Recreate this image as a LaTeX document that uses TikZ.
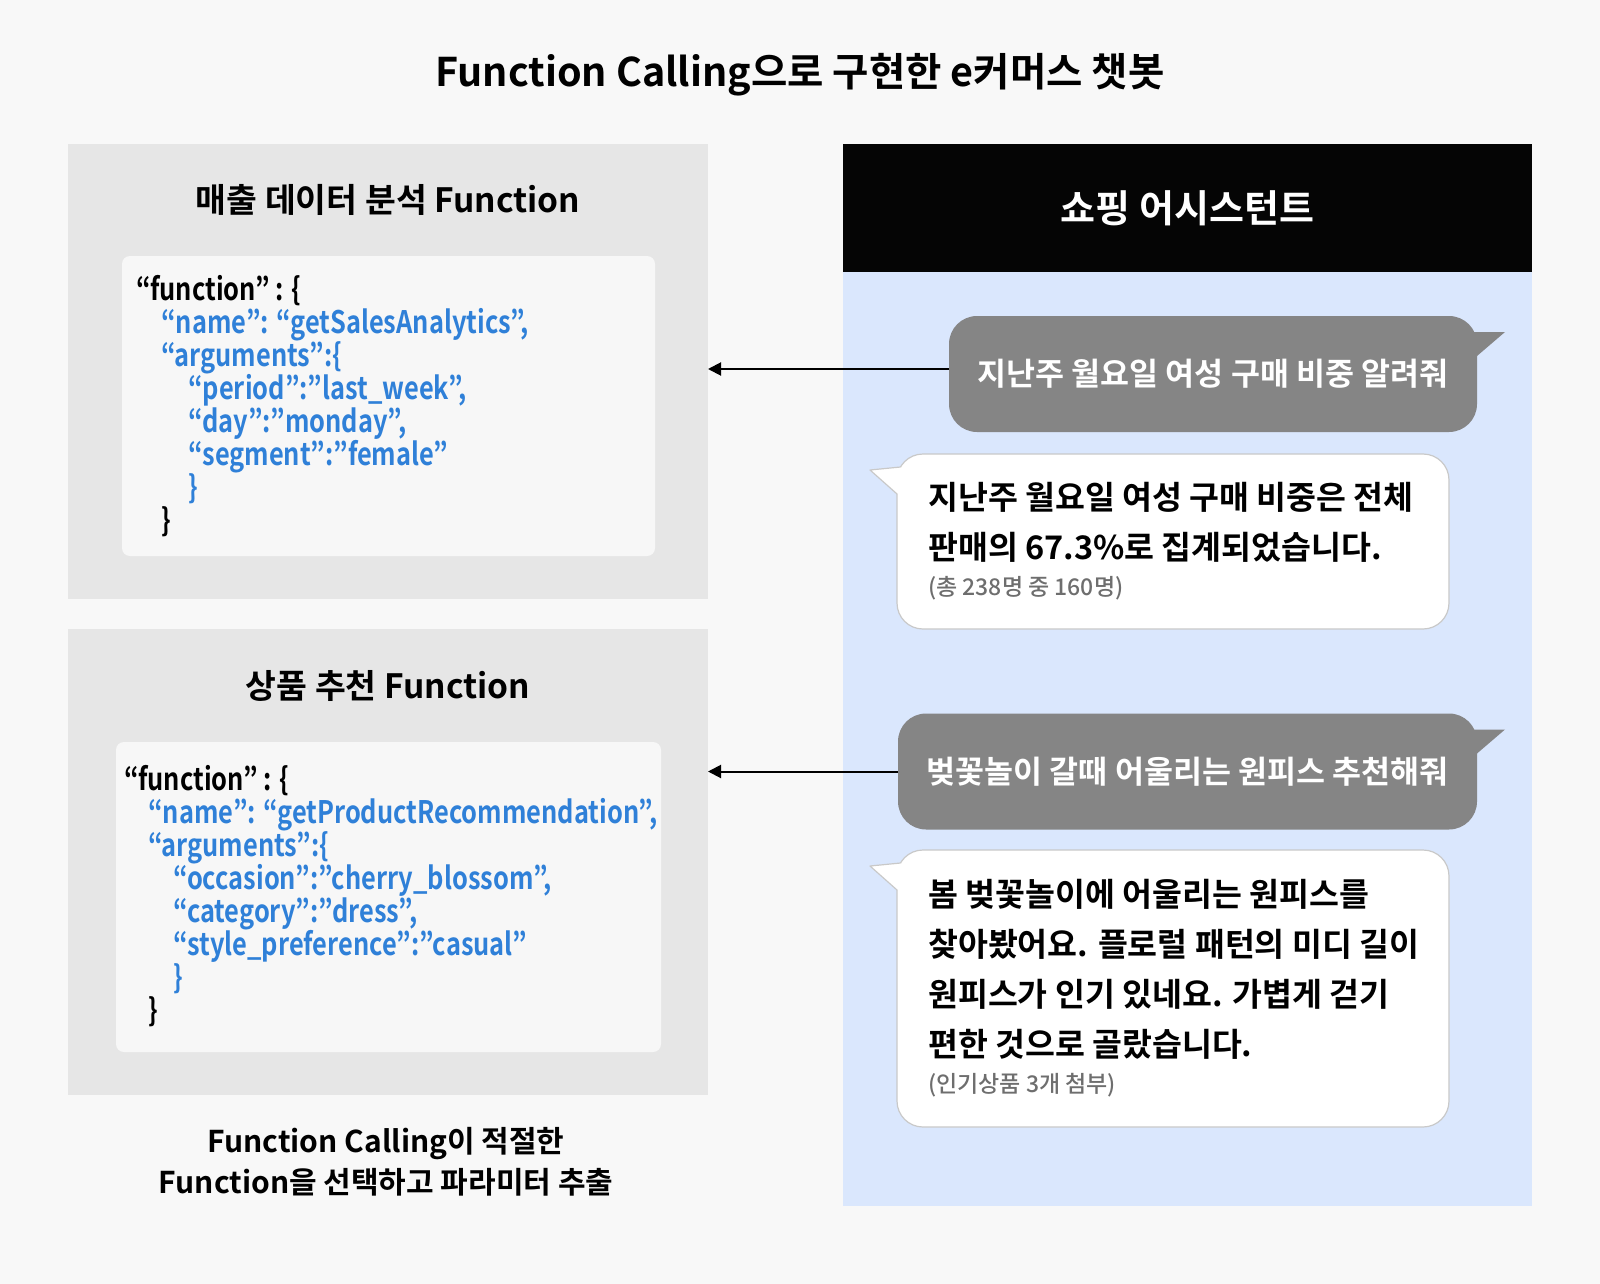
\documentclass[tikz,border=0pt]{standalone}
\usepackage{fontspec}
\setmainfont{Noto Sans CJK KR}
\newfontfamily\medfont{Noto Sans CJK KR Medium}
\newfontfamily\heavyfont{Noto Sans CJK KR Bold}
\newfontfamily\codefont[FakeStretch=0.82]{Noto Sans CJK KR Bold}
\usetikzlibrary{
    positioning,
    arrows.meta,
    calc
}
\definecolor{pagebg}{HTML}{F8F8F8}
\definecolor{panelgray}{HTML}{E6E6E6}
\definecolor{codebg}{HTML}{F7F7F7}
\definecolor{chatblue}{HTML}{DAE7FD}
\definecolor{headerblack}{HTML}{050505}
\definecolor{usergray}{HTML}{858585}
\definecolor{botborder}{HTML}{C9C9C9}
\definecolor{codeblue}{HTML}{2F80D8}
\definecolor{notegray}{HTML}{6E6E6E}
\tikzset{%
    panel/.style={%
        rectangle,
        fill=panelgray,
        inner sep = 0pt,
        outer sep = 0pt,
        minimum width=640pt,
        anchor=north west
    },
    code box/.style={%
        rectangle,
        fill=codebg,
        rounded corners=8pt,
        inner sep = 0pt,
        outer sep = 0pt
    },
    code/.style={%
        align=left,
        inner sep = 0pt,
        font=\codefont\fontsize{31}{33}\selectfont
    },
    panel title/.style={%
        inner sep = 0pt,
        font=\heavyfont\fontsize{33.5}{40}\selectfont
    },
    user msg/.style={%
        rectangle,
        fill=usergray,
        rounded corners=28pt,
        minimum height=116pt,
        inner sep = 0pt,
        outer sep = 0pt,
        text=white,
        font=\heavyfont\fontsize{31.5}{36}\selectfont
    },
    bot msg/.style={%
        rectangle,
        draw=botborder,
        line width=1.2pt,
        fill=white,
        rounded corners=26pt,
        minimum width=552pt,
        inner sep = 0pt,
        outer sep = 0pt
    },
    bot text/.style={%
        align=left,
        inner sep = 0pt,
        font=\heavyfont\fontsize{32.5}{50}\selectfont
    },
    arrow/.style={%
        -{Triangle[length=13pt,width=13pt]},
        line width=2pt
    },
}
\newcommand{\botnote}[1]{{\medfont\color{notegray}\fontsize{23}{23}\selectfont #1}}

\begin{document}
\begin{tikzpicture}[x=1pt,y=-1pt]
    \path[use as bounding box, fill=pagebg] (0,0) rectangle (1600,1284);

    \node[font=\heavyfont\fontsize{39.5}{44}\selectfont] (title) at (800,75) {Function Calling으로 구현한 e커머스 챗봇};

    % left: the two functions
    \node[panel, minimum height=455pt] (sales) at (68,144) {};
    \node[panel title] (salestitle) at ([yshift=-56pt]sales.north) {매출 데이터 분석 Function};
    \node[code box, minimum width=533pt, minimum height=300pt, below right=112pt and 54pt of sales.north west] (salescode) {};
    \node[code, below right=19pt and 14pt of salescode.north west] (salesjson) {“function” : \{\\
        \hspace*{25pt}\textcolor{codeblue}{“name”: “getSalesAnalytics”,}\\
        \hspace*{25pt}\textcolor{codeblue}{“arguments”:\{}\\
        \hspace*{52pt}\textcolor{codeblue}{“period”:”last\_week”,}\\
        \hspace*{52pt}\textcolor{codeblue}{“day”:”monday”,}\\
        \hspace*{52pt}\textcolor{codeblue}{“segment”:”female”}\\
        \hspace*{52pt}\textcolor{codeblue}{\}}\\
        \hspace*{25pt}\}};

    \node[panel, minimum height=466pt] (recommend) at (68,629) {};
    \node[panel title] (rectitle) at ([yshift=-57pt]recommend.north) {상품 추천 Function};
    \node[code box, minimum width=545pt, minimum height=310pt, below right=113pt and 48pt of recommend.north west] (reccode) {};
    \node[code, below right=23pt and 8pt of reccode.north west] (recjson) {“function” : \{\\
        \hspace*{24pt}\textcolor{codeblue}{“name”: “getProductRecommendation”,}\\
        \hspace*{24pt}\textcolor{codeblue}{“arguments”:\{}\\
        \hspace*{49pt}\textcolor{codeblue}{“occasion”:”cherry\_blossom”,}\\
        \hspace*{49pt}\textcolor{codeblue}{“category”:”dress”,}\\
        \hspace*{49pt}\textcolor{codeblue}{“style\_preference”:”casual”}\\
        \hspace*{49pt}\textcolor{codeblue}{\}}\\
        \hspace*{24pt}\}};

    \node[align=center, font=\heavyfont\fontsize{30}{41}\selectfont] (caption) at (386,1162) {Function Calling이 적절한\\Function을 선택하고 파라미터 추출};

    % right: the chat
    \node[rectangle, fill=headerblack, text=white, inner sep=0pt, outer sep=0pt, minimum width=689pt, minimum height=128pt, anchor=north west, font=\heavyfont\fontsize{38}{42}\selectfont] (header) at (843,144) {쇼핑 어시스턴트};
    \node[rectangle, fill=chatblue, inner sep=0pt, outer sep=0pt, minimum width=689pt, minimum height=934pt, below=0pt of header] (chat) {};

    \node[user msg, minimum width=528pt] (ask1) at (1213,374) {지난주 월요일 여성 구매 비중 알려줘};
    \fill[usergray] ($(ask1.north east)+(28,16)$) -- ($(ask1.north east)+(-5,16)$) -- ($(ask1.north east)+(-17,28)$) -- ($(ask1.north east)+(0,40)$) -- cycle;

    \node[bot msg, minimum height=175pt] (reply1) at (1173,541.5) {};
    \fill[white] ($(reply1.north west)+(-27,16)$) -- ($(reply1.north west)+(3.5,13)$) -- ($(reply1.north west)+(14,26)$) -- ($(reply1.north west)+(0,40)$) -- cycle;
    \draw[botborder, line width=1.2pt, line join=round] ($(reply1.north west)+(3.5,13)$) -- ($(reply1.north west)+(-27,16)$) -- ($(reply1.north west)+(0,40)$);
    \node[bot text, right=31pt of reply1.west] (reply1text) {지난주 월요일 여성 구매 비중은 전체\\
        판매의 67.3\%로 집계되었습니다.\\[-14pt]
        \botnote{(총 238명 중 160명)}};

    \node[user msg, minimum width=579pt] (ask2) at (1187.5,771.5) {벚꽃놀이 갈때 어울리는 원피스 추천해줘};
    \fill[usergray] ($(ask2.north east)+(28,16)$) -- ($(ask2.north east)+(-5,16)$) -- ($(ask2.north east)+(-17,28)$) -- ($(ask2.north east)+(0,40)$) -- cycle;

    \node[bot msg, minimum height=277pt] (reply2) at (1173,988.5) {};
    \fill[white] ($(reply2.north west)+(-27,16)$) -- ($(reply2.north west)+(3.5,13)$) -- ($(reply2.north west)+(14,26)$) -- ($(reply2.north west)+(0,40)$) -- cycle;
    \draw[botborder, line width=1.2pt, line join=round] ($(reply2.north west)+(3.5,13)$) -- ($(reply2.north west)+(-27,16)$) -- ($(reply2.north west)+(0,40)$);
    \node[bot text, right=31pt of reply2.west] (reply2text) {봄 벚꽃놀이에 어울리는 원피스를\\
        찾아봤어요. 플로럴 패턴의 미디 길이\\
        원피스가 인기 있네요. 가볍게 걷기\\
        편한 것으로 골랐습니다.\\[-14pt]
        \botnote{(인기상품 3개 첨부)}};

    % function calls
    \coordinate (call1) at ([yshift=5pt]ask1.west);
    \coordinate (call2) at (ask2.west);
    \draw[arrow] (call1) -- (call1 -| sales.east);
    \draw[arrow] (call2) -- (call2 -| recommend.east);
\end{tikzpicture}
\end{document}
